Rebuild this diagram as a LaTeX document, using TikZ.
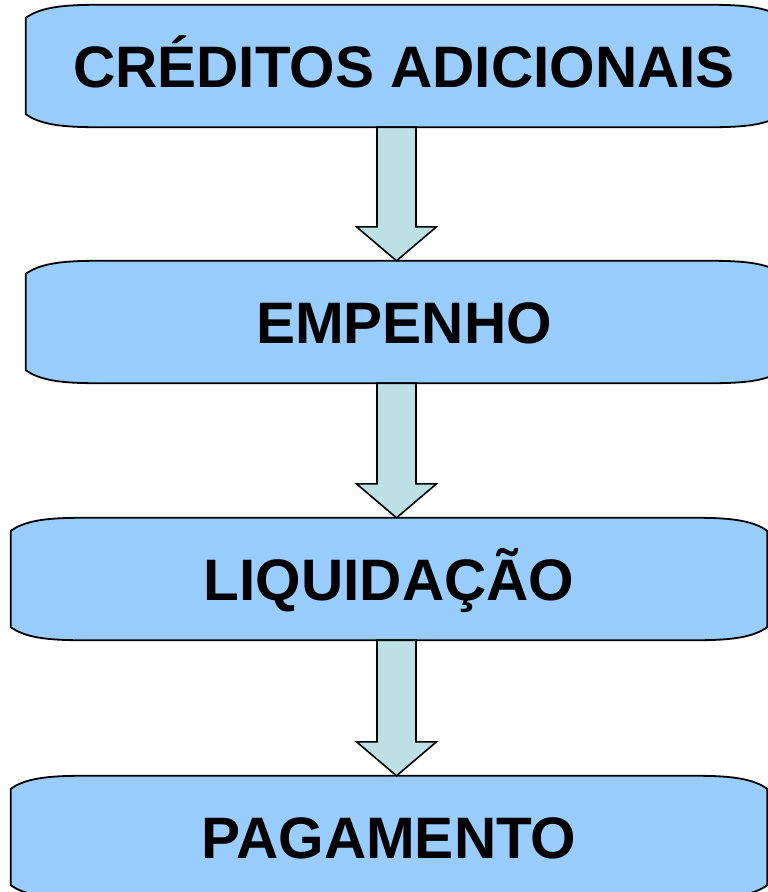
\documentclass[tikz,border=0pt]{standalone}
\usepackage{fontspec}
\setmainfont{Liberation Sans}
\usetikzlibrary{calc,backgrounds}
\definecolor{stagefill}{HTML}{99CCFF}
\definecolor{arrowfill}{HTML}{BCE0E4}
\tikzset{
  stage/.style={minimum width=756pt, minimum height=122pt, inner sep=0pt,
    font=\fontsize{58.5}{62}\selectfont\bfseries, text height=42pt, text depth=0pt},
  stageline/.style={draw=black, line width=1.8pt, fill=stagefill},
  flowarrow/.style={draw=black, line width=1.6pt, fill=arrowfill, line join=miter}
}
\newcommand\stageoutline[1]{%
  \path[stageline] ($(#1.north west)+(0,13)$)
    .. controls ($(#1.north west)+(14,3)$) and ($(#1.north west)+(35,0)$) .. ($(#1.north west)+(70,0)$)
    -- ($(#1.north east)+(-70,0)$)
    .. controls ($(#1.north east)+(-35,0)$) and ($(#1.north east)+(-14,3)$) .. ($(#1.north east)+(0,13)$)
    -- ($(#1.south east)+(0,-13)$)
    .. controls ($(#1.south east)+(-14,-3)$) and ($(#1.south east)+(-35,0)$) .. ($(#1.south east)+(-70,0)$)
    -- ($(#1.south west)+(70,0)$)
    .. controls ($(#1.south west)+(35,0)$) and ($(#1.south west)+(14,-3)$) .. ($(#1.south west)+(0,-13)$)
    -- cycle;}
\newcommand\blockarrow[2]{%
  \path[flowarrow] ($(#1.south -| axis)+(-19.5,0)$)
    -- ($(#2.north -| axis)+(-19.5,-34)$) -- ($(#2.north -| axis)+(-40,-34)$)
    -- (#2.north -| axis)
    -- ($(#2.north -| axis)+(40,-34)$) -- ($(#2.north -| axis)+(19.5,-34)$)
    -- ($(#1.south -| axis)+(19.5,0)$) -- cycle;}
\begin{document}
\begin{tikzpicture}[x=1pt,y=-1pt]
	\useasboundingbox (0,0) rectangle (768,892);
	\coordinate (axis) at (396.5,0);
	\node[stage] (s1) at (404,66) {CRÉDITOS ADICIONAIS};
	\node[stage] (s2) at (404,322) {EMPENHO};
	\node[stage] (s3) at (389,579) {LIQUIDAÇÃO};
	\node[stage] (s4) at (389,837) {PAGAMENTO};
	\begin{scope}[on background layer]
	 \stageoutline{s1}
	 \stageoutline{s2}
	 \stageoutline{s3}
	 \stageoutline{s4}
	 \blockarrow{s1}{s2}
	 \blockarrow{s2}{s3}
	 \blockarrow{s3}{s4}
	\end{scope}
\end{tikzpicture}
\end{document}
